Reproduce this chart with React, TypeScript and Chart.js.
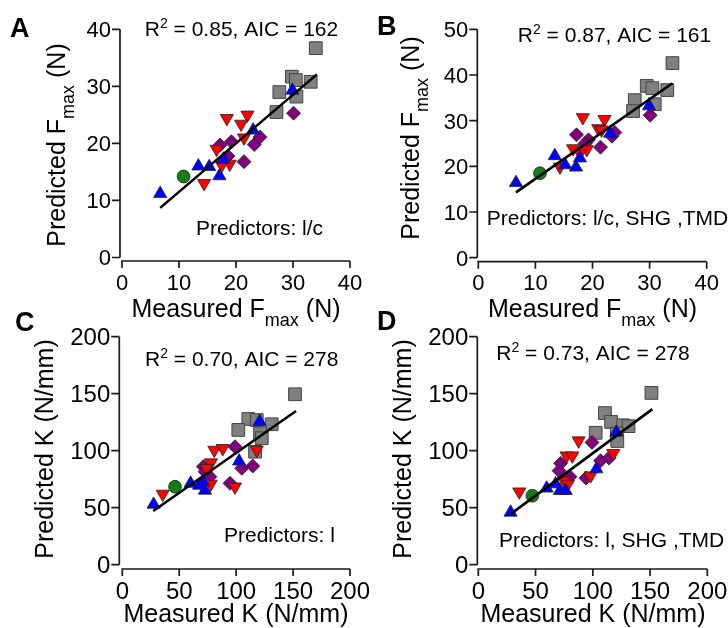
import React, { useEffect, useRef } from "react";
import { Chart, registerables } from "chart.js";
Chart.register(...registerables);

type P = [number, number];

// ---------- Panel A : Fmax, predictors l/c ----------
const aGray: P[] = [[34.0, 36.7], [29.8, 31.7], [30.5, 31.1], [33.1, 30.8], [27.6, 29.0], [30.6, 28.2], [27.1, 25.5]];
const aBlue: P[] = [[6.7, 11.2], [13.4, 16.0], [15.3, 15.9], [17.1, 14.3], [17.8, 17.2], [23.0, 22.3], [29.9, 29.3]];
const aRed: P[] = [[18.4, 24.4], [22.0, 25.0], [20.9, 23.4], [21.4, 21.0], [16.6, 19.0], [17.5, 16.2], [18.9, 16.4], [14.4, 13.0]];
const aPurple: P[] = [[30.1, 25.3], [17.2, 19.7], [19.2, 20.3], [23.2, 19.8], [24.2, 21.1], [18.6, 17.8], [21.4, 16.8]];
const aGreen: P[] = [[10.8, 14.2]];
const aFit: P[] = [[6.7, 8.7], [34.2, 32.1]];

// ---------- Panel B : Fmax, predictors l/c, SHG, TMD ----------
const bGray: P[] = [[34.0, 42.6], [29.5, 37.6], [30.5, 37.1], [33.1, 36.7], [27.4, 34.5], [30.9, 33.6], [27.1, 32.1]];
const bBlue: P[] = [[6.6, 16.4], [13.4, 22.3], [15.2, 20.3], [17.1, 19.8], [17.8, 21.8], [23.1, 27.2], [29.9, 33.2]];
const bRed: P[] = [[18.3, 30.7], [22.1, 30.3], [21.0, 28.3], [21.6, 28.0], [16.6, 23.9], [19.0, 23.7], [17.8, 22.9], [14.3, 19.9]];
const bPurple: P[] = [[30.1, 31.2], [17.2, 26.9], [19.3, 25.8], [21.4, 24.2], [23.4, 26.6], [23.9, 27.4], [18.7, 25.0]];
const bGreen: P[] = [[10.8, 18.5]];
const bFit: P[] = [[6.6, 14.3], [34.0, 38.2]];

// ---------- Panel C : K, predictors l ----------
const cGray: P[] = [[151.7, 149.5], [110.7, 127.8], [118.1, 126.9], [131.2, 123.2], [101.9, 118.2], [121.0, 115.3], [122.5, 110.9], [116.6, 99.1]];
const cBlue: P[] = [[27.5, 52.8], [60.0, 71.3], [67.5, 69.5], [70.8, 72.7], [72.6, 65.2], [102.6, 90.8], [120.6, 125.5]];
const cRed: P[] = [[35.5, 62.0], [80.8, 100.6], [88.2, 102.1], [77.9, 89.5], [74.1, 84.6], [77.7, 70.8], [99.0, 68.4], [118.1, 100.6]];
const cPurple: P[] = [[99.0, 103.5], [71.2, 86.0], [77.0, 77.2], [94.6, 71.4], [104.9, 84.6], [114.6, 86.6], [72.7, 81.6]];
const cGreen: P[] = [[46.3, 68.4]];
const cFit: P[] = [[27.2, 47.1], [152.6, 134.8]];

// ---------- Panel D : K, predictors l, SHG, TMD ----------
const dGray: P[] = [[151.2, 150.7], [110.6, 133.0], [116.0, 125.2], [126.6, 122.3], [131.2, 121.5], [102.5, 115.7], [121.0, 115.0], [121.4, 108.5]];
const dBlue: P[] = [[28.2, 45.9], [59.7, 67.0], [67.5, 70.8], [71.3, 64.9], [76.3, 64.9], [103.1, 83.9], [120.5, 116.1]];
const dRed: P[] = [[35.8, 64.0], [87.6, 108.8], [77.1, 95.6], [82.1, 95.6], [74.8, 73.7], [78.3, 70.8], [98.1, 78.1], [117.9, 97.7]];
const dPurple: P[] = [[99.3, 107.3], [71.9, 88.9], [70.5, 82.5], [80.1, 77.2], [94.0, 76.0], [106.8, 91.2], [114.1, 93.6]];
const dGreen: P[] = [[47.2, 60.5]];
const dFit: P[] = [[28.2, 44.4], [152.0, 136.5]];

// ---------- tick labels ----------
const fTicks40 = [0, 10, 20, 30, 40];
const fTicks50 = [0, 10, 20, 30, 40, 50];
const kTicks200 = [0, 50, 100, 150, 200];

// ---------- texts ----------
const r2Values = ["0.85", "0.87", "0.70", "0.73"];
const aicValues = ["162", "161", "278", "278"];
const predictorTexts = ["Predictors: l/c", "Predictors: l/c, SHG ,TMD", "Predictors: l", "Predictors: l, SHG ,TMD"];
const panelLetters = ["A", "B", "C", "D"];

const FONT = '"Liberation Sans", Arial, Helvetica, sans-serif';

type Seg = { t: string; s: number; dy: number };

function drawRich(ctx: CanvasRenderingContext2D, segs: Seg[], x: number, y: number, align: "left" | "center") {
  const widths = segs.map((sg) => {
    ctx.font = `${sg.s}px ${FONT}`;
    return ctx.measureText(sg.t).width;
  });
  const total = widths.reduce((a, b) => a + b, 0);
  let cx = align === "center" ? x - total / 2 : x;
  ctx.textAlign = "left";
  ctx.textBaseline = "alphabetic";
  segs.forEach((sg, i) => {
    ctx.font = `${sg.s}px ${FONT}`;
    ctx.fillText(sg.t, cx, y + sg.dy);
    cx += widths[i];
  });
}

interface PanelCfg {
  idx: number;
  area: { l: number; r: number; t: number; b: number };
  yAxisX: number;
  xAxisY: number;
  xTicks: number[];
  yTicks: number[];
  tickFont: number;
  quantity: "F" | "K";
  letterPos: [number, number];
  r2Pos: [number, number];
  predPos: [number, number, "left" | "center"];
  xTitlePos: [number, number];
  yTitlePos: [number, number];
  gray: P[]; blue: P[]; red: P[]; purple: P[]; green: P[]; fit: P[];
}

const panels: PanelCfg[] = [
  {
    idx: 0, area: { l: 122, r: 350, t: 29.3, b: 257.5 }, yAxisX: 120, xAxisY: 261,
    xTicks: fTicks40, yTicks: fTicks40, tickFont: 22, quantity: "F",
    letterPos: [10, 37], r2Pos: [241.5, 36], predPos: [259.5, 235, "center"],
    xTitlePos: [236, 316.7], yTitlePos: [65, 145],
    gray: aGray, blue: aBlue, red: aRed, purple: aPurple, green: aGreen, fit: aFit,
  },
  {
    idx: 1, area: { l: 478.3, r: 706.7, t: 29.3, b: 257.7 }, yAxisX: 477.3, xAxisY: 261.7,
    xTicks: fTicks40, yTicks: fTicks50, tickFont: 22, quantity: "F",
    letterPos: [377, 35], r2Pos: [614.5, 41.7], predPos: [486.7, 225, "left"],
    xTitlePos: [592.5, 317], yTitlePos: [419, 138],
    gray: bGray, blue: bBlue, red: bRed, purple: bPurple, green: bGreen, fit: bFit,
  },
  {
    idx: 2, area: { l: 122.3, r: 350, t: 336.7, b: 564.7 }, yAxisX: 119.3, xAxisY: 569,
    xTicks: kTicks200, yTicks: kTicks200, tickFont: 24, quantity: "K",
    letterPos: [15, 331], r2Pos: [241.7, 365.7], predPos: [224, 542, "left"],
    xTitlePos: [236, 622], yTitlePos: [53, 449],
    gray: cGray, blue: cBlue, red: cRed, purple: cPurple, green: cGreen, fit: cFit,
  },
  {
    idx: 3, area: { l: 478.3, r: 707.3, t: 336.7, b: 564.7 }, yAxisX: 477.3, xAxisY: 569,
    xTicks: kTicks200, yTicks: kTicks200, tickFont: 24, quantity: "K",
    letterPos: [377, 330], r2Pos: [593, 360], predPos: [499, 547, "left"],
    xTitlePos: [593, 622], yTitlePos: [410.7, 449],
    gray: dGray, blue: dBlue, red: dRed, purple: dPurple, green: dGreen, fit: dFit,
  },
];

function toXY(arr: P[]) {
  return arr.map(([x, y]) => ({ x, y }));
}

function makePlugin(p: PanelCfg) {
  return {
    id: "panelDecor" + p.idx,
    afterDraw(chart: any) {
      const ctx: CanvasRenderingContext2D = chart.ctx;
      const xs = chart.scales.x;
      const ys = chart.scales.y;
      ctx.save();
      ctx.strokeStyle = "#1a1a1a";
      ctx.fillStyle = "#000";
      ctx.lineWidth = 1.7;
      const yTop = ys.getPixelForValue(p.yTicks[p.yTicks.length - 1]);
      const yZero = ys.getPixelForValue(p.yTicks[0]);
      ctx.beginPath();
      ctx.moveTo(p.yAxisX, yTop);
      ctx.lineTo(p.yAxisX, yZero);
      p.yTicks.forEach((v) => {
        const py = ys.getPixelForValue(v);
        ctx.moveTo(p.yAxisX - 8, py);
        ctx.lineTo(p.yAxisX, py);
      });
      const xL = xs.getPixelForValue(p.xTicks[0]);
      const xR = xs.getPixelForValue(p.xTicks[p.xTicks.length - 1]);
      ctx.moveTo(xL - 1, p.xAxisY);
      ctx.lineTo(xR, p.xAxisY);
      p.xTicks.forEach((v) => {
        const px = xs.getPixelForValue(v);
        ctx.moveTo(px, p.xAxisY);
        ctx.lineTo(px, p.xAxisY + 7);
      });
      ctx.stroke();

      const cap = p.tickFont * 0.716;
      ctx.font = `${p.tickFont}px ${FONT}`;
      ctx.textBaseline = "alphabetic";
      ctx.textAlign = "right";
      p.yTicks.forEach((v) => {
        const py = ys.getPixelForValue(v);
        ctx.fillText(String(v), p.yAxisX - 9, py + cap / 2);
      });
      ctx.textAlign = "center";
      p.xTicks.forEach((v) => {
        const px = xs.getPixelForValue(v);
        ctx.fillText(String(v), px, p.xAxisY + 13 + cap);
      });

      ctx.font = `bold 27px ${FONT}`;
      ctx.textAlign = "left";
      ctx.fillText(panelLetters[p.idx], p.letterPos[0], p.letterPos[1]);

      drawRich(ctx, [
        { t: "R", s: 21, dy: 0 },
        { t: "2", s: 14, dy: -8 },
        { t: ` = ${r2Values[p.idx]}, AIC = ${aicValues[p.idx]}`, s: 21, dy: 0 },
      ], p.r2Pos[0], p.r2Pos[1], "center");

      drawRich(ctx, [{ t: predictorTexts[p.idx], s: 21, dy: 0 }], p.predPos[0], p.predPos[1], p.predPos[2]);

      const xSegs: Seg[] = p.quantity === "F"
        ? [{ t: "Measured F", s: 25, dy: 0 }, { t: "max", s: 18, dy: 9 }, { t: " (N)", s: 25, dy: 0 }]
        : [{ t: "Measured K (N/mm)", s: 25, dy: 0 }];
      drawRich(ctx, xSegs, p.xTitlePos[0], p.xTitlePos[1], "center");
      const ySegs: Seg[] = p.quantity === "F"
        ? [{ t: "Predicted F", s: 25, dy: 0 }, { t: "max", s: 18, dy: 9 }, { t: " (N)", s: 25, dy: 0 }]
        : [{ t: "Predicted K (N/mm)", s: 25, dy: 0 }];
      ctx.save();
      ctx.translate(p.yTitlePos[0], p.yTitlePos[1]);
      ctx.rotate(-Math.PI / 2);
      drawRich(ctx, ySegs, 0, 0, "center");
      ctx.restore();
      ctx.restore();
    },
  };
}

function Panel({ p }: { p: PanelCfg }) {
  const ref = useRef<HTMLCanvasElement>(null);
  useEffect(() => {
    if (!ref.current) return;
    const border = "#222";
    const chart = new Chart(ref.current, {
      type: "scatter",
      data: {
        datasets: [
          {
            label: "fit", data: toXY(p.fit), showLine: true, borderColor: "#000", borderWidth: 2.6,
            pointRadius: 0, fill: false,
          } as any,
          {
            label: "blue", data: toXY(p.blue), pointStyle: "triangle", pointRadius: 7.6,
            backgroundColor: "#0000ff", borderColor: border, borderWidth: 0.8,
          },
          {
            label: "green", data: toXY(p.green), pointStyle: "circle", pointRadius: 6.4,
            backgroundColor: "#118011", borderColor: border, borderWidth: 0.8,
          },
          {
            label: "red", data: toXY(p.red), pointStyle: "triangle", pointRotation: 180, pointRadius: 7.6,
            backgroundColor: "#ff0000", borderColor: border, borderWidth: 0.8,
          },
          {
            label: "purple", data: toXY(p.purple), pointStyle: "rectRot", pointRadius: 7,
            backgroundColor: "#800080", borderColor: border, borderWidth: 0.8,
          },
          {
            label: "gray", data: toXY(p.gray), pointStyle: "rect", pointRadius: 9,
            backgroundColor: "#808080", borderColor: "#444", borderWidth: 1,
          },
        ],
      },
      options: {
        responsive: false,
        animation: false,
        events: [],
        layout: {
          padding: { left: p.area.l, top: p.area.t, right: 728 - p.area.r, bottom: 628 - p.area.b },
        },
        scales: {
          x: { type: "linear", min: p.xTicks[0], max: p.xTicks[p.xTicks.length - 1], display: false },
          y: { type: "linear", min: p.yTicks[0], max: p.yTicks[p.yTicks.length - 1], display: false },
        },
        plugins: { legend: { display: false }, tooltip: { enabled: false } },
      },
      plugins: [makePlugin(p)],
    });
    return () => chart.destroy();
  }, [p]);
  return (
    <canvas
      ref={ref}
      width={728}
      height={628}
      style={{ position: "absolute", left: 0, top: 0, width: 728, height: 628 }}
    />
  );
}

export default function App() {
  return (
    <div style={{ position: "absolute", left: 0, top: 0, width: 728, height: 628, background: "#fff" }}>
      {panels.map((p) => (
        <Panel key={p.idx} p={p} />
      ))}
    </div>
  );
}
